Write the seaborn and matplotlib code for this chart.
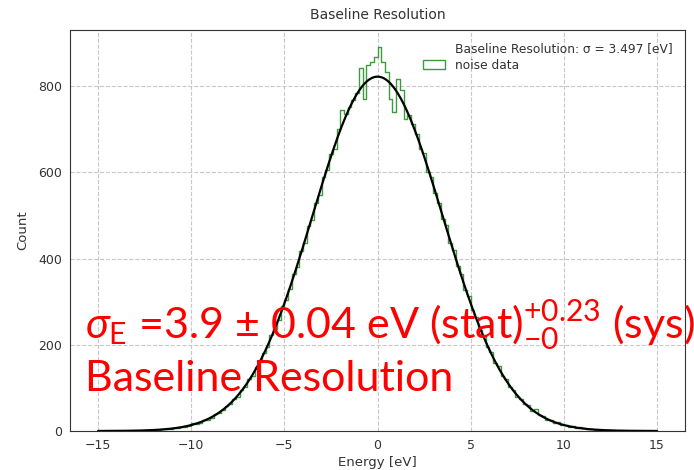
import numpy as np
import pandas as pd
import matplotlib
matplotlib.use("Agg")
import matplotlib.pyplot as plt
import seaborn as sns
from matplotlib.lines import Line2D
from matplotlib.patches import Patch

# ---- data ----
bin_lo, bin_hi, bin_w = -15.0, 15.0, 0.2
counts = [
    0, 0, 0, 0, 0, 0, 0, 0, 0, 1,
    1, 1, 1, 2, 2, 3, 2, 4, 5, 4,
    7, 6, 10, 9, 12, 18, 16, 19, 26, 25,
    30, 40, 41, 48, 58, 62, 74, 80, 95, 103,
    120, 128, 148, 160, 182, 195, 222, 236, 258, 290,
    305, 330, 365, 380, 418, 436, 475, 490, 530, 548,
    590, 605, 642, 655, 700, 745, 735, 752, 768, 785,
    841, 770, 848, 855, 868, 890, 855, 832, 770, 740,
    816, 790, 723, 733, 712, 690, 655, 645, 600, 590,
    552, 530, 492, 478, 435, 420, 382, 365, 328, 312,
    280, 265, 235, 222, 195, 184, 158, 150, 128, 121,
    102, 96, 80, 75, 62, 60, 47, 50, 36, 34,
    26, 25, 19, 20, 14, 13, 9, 12, 7, 10,
    6, 4, 5, 2, 3, 2, 1, 2, 1, 1,
    1, 0, 1, 0, 0, 0, 0, 0, 0, 0,
]
# gaussian fit parameters
fit_amp, fit_mu, fit_sigma = 822.0, 0.0, 3.497

n_bins = len(counts)
centers = bin_lo + bin_w * (np.arange(n_bins) + 0.5)
hist_df = pd.DataFrame({"energy": centers, "count": counts})
xfit = np.linspace(bin_lo, bin_hi, 600)
yfit = fit_amp * np.exp(-(xfit - fit_mu) ** 2 / (2 * fit_sigma ** 2))

# ---- style ----
sns.set_style("whitegrid", {
    "grid.linestyle": "--",
    "grid.color": "#c8c8c8",
    "axes.edgecolor": "#333333",
    "axes.linewidth": 1.5,
    "text.color": "#333333",
    "axes.labelcolor": "#333333",
    "xtick.color": "#333333",
    "ytick.color": "#333333",
})
plt.rcParams["font.family"] = ["DejaVu Sans"]

fig = plt.figure(figsize=(6.94, 4.70), dpi=100)
ax = fig.add_axes([0.101, 0.083, 0.886, 0.853])

green = "#3c9c3c"
sns.histplot(data=hist_df, x="energy", weights="count", binwidth=bin_w,
             binrange=(bin_lo, bin_hi), element="step", fill=False,
             color=green, linewidth=1.0, ax=ax)
sns.lineplot(x=xfit, y=yfit, color="black", linewidth=1.6, ax=ax)

ax.set_xlim(-16.5, 16.5)
ax.set_ylim(0, 930)
ax.set_xticks([-15, -10, -5, 0, 5, 10, 15])
ax.set_yticks([0, 200, 400, 600, 800])
ax.tick_params(labelsize=9, length=0, pad=6)
ax.set_xlabel("Energy [eV]", fontsize=9.5, labelpad=3)
ax.set_ylabel("Count", fontsize=9.5, labelpad=6)
ax.set_title("Baseline Resolution", fontsize=10, pad=8)

handles = [Line2D([], [], linestyle="none"),
           Patch(facecolor="none", edgecolor=green, linewidth=1.0)]
labels = [f"Baseline Resolution: \u03c3 = {fit_sigma:.3f} [eV]", "noise data"]
ax.legend(handles, labels, loc="upper right", frameon=False, fontsize=8.8,
          handlelength=1.8, handletextpad=0.8, borderaxespad=0.6,
          labelspacing=0.3)

# ---- red annotation overlay ----
plt.rcParams["mathtext.fontset"] = "custom"
plt.rcParams["mathtext.rm"] = "Lato"
plt.rcParams["mathtext.it"] = "Lato:italic"
fig.text(85 / 694, 1 - 339 / 470,
         r"$\sigma_{\mathrm{E}}$ =3.9 ± 0.04 eV (stat)$^{+0.23}_{-0}$ (sys)",
         color="red", fontsize=31, family=["Lato", "DejaVu Sans"], va="baseline")
fig.text(85 / 694, 1 - 391 / 470, "Baseline Resolution",
         color="red", fontsize=31, family=["Lato", "DejaVu Sans"], va="baseline")

fig.savefig("out.png", dpi=100)
